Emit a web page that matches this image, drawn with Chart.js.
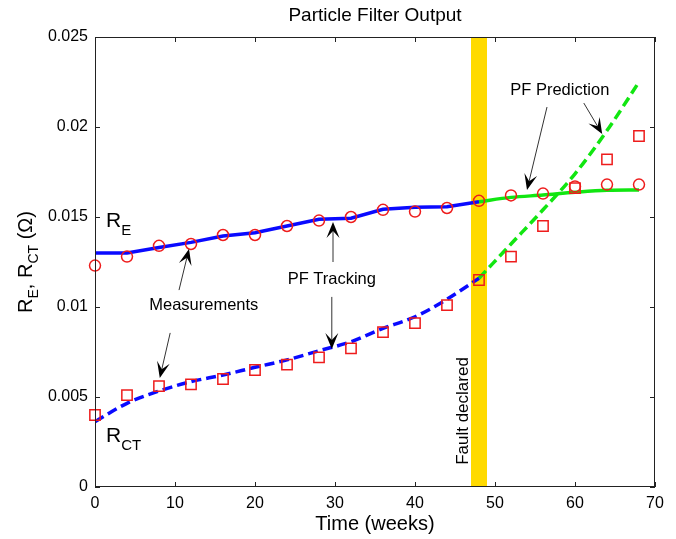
<!DOCTYPE html>
<html>
<head>
<meta charset="utf-8">
<script src="https://cdn.jsdelivr.net/npm/chart.js@4.4.0/dist/chart.umd.min.js"></script>
<style>
body { margin: 0; background: #fff; }
#wrap { width: 676px; height: 539px; }
</style>
</head>
<body>
<div id="wrap"><canvas id="pfChart" width="676" height="539"></canvas></div>
<script>
// measurement weeks and values (circles = R_E, squares = R_CT)
const weeks = [0, 4, 8, 12, 16, 20, 24, 28, 32, 36, 40, 44, 48, 52, 56, 60, 64, 68];
const reMeasured = [0.0123, 0.0128, 0.0134, 0.0135, 0.0140, 0.0140, 0.0145, 0.0148, 0.0150,
                    0.0154, 0.0153, 0.0155, 0.0159, 0.0162, 0.0163, 0.0167, 0.0168, 0.0168];
const rctMeasured = [0.0040, 0.0051, 0.0056, 0.0057, 0.0060, 0.0065, 0.0068, 0.0072, 0.0077,
                     0.0086, 0.0091, 0.0101, 0.0115, 0.0128, 0.0145, 0.0166, 0.0182, 0.0195];

// PF tracking (blue) up to fault declaration
const trackWeeks = [0, 4, 8, 12, 16, 20, 24, 28, 32, 36, 40, 44, 48];
const reTracked = [0.0130, 0.0130, 0.01330, 0.01359, 0.01394, 0.01413, 0.01450, 0.01487,
                   0.01493, 0.01543, 0.01554, 0.01557, 0.01585];
const rctTracked = [0.00363, 0.00465, 0.00533, 0.00585, 0.00622, 0.00665, 0.00706, 0.00757,
                    0.00807, 0.00881, 0.00946, 0.01043, 0.01160];

// PF prediction (green) after fault declaration
const predWeeks = [48, 52, 56, 60, 64, 68];
const rePredicted = [0.01585, 0.01609, 0.01622, 0.01637, 0.01648, 0.01650];
const rctPredicted = [0.01160, 0.01350, 0.01540, 0.01740, 0.01980, 0.02250];

const faultBand = [47, 49];

const xTicks = [0, 10, 20, 30, 40, 50, 60, 70];
const yTicks = [0, 0.005, 0.01, 0.015, 0.02, 0.025];
const yTickLabels = ['0', '0.005', '0.01', '0.015', '0.02', '0.025'];

const FONT = '"Liberation Sans", Arial, Helvetica, sans-serif';

function pts(xs, ys) {
    return xs.map((x, i) => ({ x: x, y: ys[i] }));
}

// text labels and arrows, in data coordinates
const labels = [
    { text: 'Measurements', x: 13.6, y: 0.01010 },
    { text: 'PF Tracking', x: 29.6, y: 0.01155 },
    { text: 'PF Prediction', x: 58.1, y: 0.02205 }
];
const arrows = [
    { from: [10.5, 0.01094], to: [11.75, 0.01322] },
    { from: [9.4, 0.00856], to: [8.1, 0.00606] },
    { from: [29.75, 0.01250], to: [29.75, 0.01472] },
    { from: [29.6, 0.01056], to: [29.6, 0.00767] },
    { from: [56.5, 0.02111], to: [54.0, 0.01650] },
    { from: [61.1, 0.02133], to: [63.4, 0.01961] }
];

function drawRich(ctx, parts, x, y, size, subSize, drop) {
    let cx = x;
    parts.forEach(p => {
        ctx.font = (p.sub ? subSize : size) + 'px ' + FONT;
        ctx.fillText(p.t, cx, y + (p.sub ? drop : 0));
        cx += ctx.measureText(p.t).width;
    });
    return cx - x;
}

function richWidth(ctx, parts, size, subSize) {
    let w = 0;
    parts.forEach(p => {
        ctx.font = (p.sub ? subSize : size) + 'px ' + FONT;
        w += ctx.measureText(p.t).width;
    });
    return w;
}

function drawArrow(ctx, x1, y1, x2, y2) {
    const ang = Math.atan2(y2 - y1, x2 - x1);
    const len = 16, half = 6.5, notch = 9;
    ctx.save();
    ctx.strokeStyle = '#333';
    ctx.lineWidth = 1;
    ctx.beginPath();
    ctx.moveTo(x1, y1);
    ctx.lineTo(x2 - Math.cos(ang) * notch, y2 - Math.sin(ang) * notch);
    ctx.stroke();
    ctx.translate(x2, y2);
    ctx.rotate(ang);
    ctx.fillStyle = '#000';
    ctx.beginPath();
    ctx.moveTo(0, 0);
    ctx.lineTo(-len, -half);
    ctx.lineTo(-notch, 0);
    ctx.lineTo(-len, half);
    ctx.closePath();
    ctx.fill();
    ctx.restore();
}

const decorPlugin = {
    id: 'decor',
    beforeDatasetsDraw(chart) {
        const { ctx, chartArea: a, scales: { x } } = chart;
        const x0 = x.getPixelForValue(faultBand[0]);
        const x1 = x.getPixelForValue(faultBand[1]);
        ctx.save();
        ctx.fillStyle = '#ffda00';
        ctx.fillRect(x0, a.top, x1 - x0, a.bottom - a.top);
        ctx.restore();
    },
    afterDraw(chart) {
        const { ctx, chartArea: a, scales: { x, y } } = chart;
        ctx.save();
        // box and inward ticks
        ctx.strokeStyle = '#222';
        ctx.lineWidth = 1;
        ctx.strokeRect(a.left + 0.5, a.top + 0.5, a.right - a.left - 1, a.bottom - a.top - 1);
        ctx.beginPath();
        xTicks.forEach(v => {
            const px = Math.round(x.getPixelForValue(v)) + 0.5;
            ctx.moveTo(px, a.bottom); ctx.lineTo(px, a.bottom - 5);
            ctx.moveTo(px, a.top); ctx.lineTo(px, a.top + 5);
        });
        yTicks.forEach(v => {
            const py = Math.round(y.getPixelForValue(v)) + 0.5;
            ctx.moveTo(a.left, py); ctx.lineTo(a.left + 5, py);
            ctx.moveTo(a.right, py); ctx.lineTo(a.right - 5, py);
        });
        ctx.stroke();

        ctx.fillStyle = '#000';
        ctx.textBaseline = 'middle';
        ctx.textAlign = 'center';

        // title
        ctx.font = '19px ' + FONT;
        ctx.fillText('Particle Filter Output', (a.left + a.right) / 2, 16);

        // x axis title
        ctx.font = '20px ' + FONT;
        ctx.fillText('Time (weeks)', (a.left + a.right) / 2, 524);

        // annotation texts
        ctx.font = '16.5px ' + FONT;
        labels.forEach(l => {
            ctx.fillText(l.text, x.getPixelForValue(l.x), y.getPixelForValue(l.y));
        });

        // fault declared (vertical)
        ctx.save();
        ctx.translate(463, 411);
        ctx.rotate(-Math.PI / 2);
        ctx.font = '17px ' + FONT;
        ctx.fillText('Fault declared', 0, 0);
        ctx.restore();

        arrows.forEach(ar => {
            drawArrow(ctx,
                x.getPixelForValue(ar.from[0]), y.getPixelForValue(ar.from[1]),
                x.getPixelForValue(ar.to[0]), y.getPixelForValue(ar.to[1]));
        });

        // curve labels with subscripts
        ctx.textAlign = 'left';
        ctx.textBaseline = 'alphabetic';
        drawRich(ctx, [{ t: 'R' }, { t: 'E', sub: true }], 106, 227, 21, 15, 8);
        drawRich(ctx, [{ t: 'R' }, { t: 'CT', sub: true }], 106, 442, 21, 15, 8);

        // y axis title
        const yParts = [{ t: 'R' }, { t: 'E', sub: true }, { t: ', R' }, { t: 'CT', sub: true }, { t: ' (\u03A9)' }];
        const w = richWidth(ctx, yParts, 20, 14);
        ctx.save();
        ctx.translate(32, (a.top + a.bottom) / 2);
        ctx.rotate(-Math.PI / 2);
        drawRich(ctx, yParts, -w / 2, 0, 20, 14, 6);
        ctx.restore();

        ctx.restore();
    }
};

const ctx = document.getElementById('pfChart').getContext('2d');

const pfChart = new Chart(ctx, {
    type: 'line',
    data: {
        datasets: [
            {
                label: 'R_E measured',
                data: pts(weeks, reMeasured),
                showLine: false,
                pointStyle: 'circle',
                pointRadius: 5.5,
                pointBorderWidth: 1.5,
                pointBorderColor: '#ee1c1c',
                pointBackgroundColor: 'rgba(0,0,0,0)',
                clip: false,
                order: 1
            },
            {
                label: 'R_CT measured',
                data: pts(weeks, rctMeasured),
                showLine: false,
                pointStyle: 'rect',
                pointRadius: 7.3,
                pointBorderWidth: 1.5,
                pointBorderColor: '#ee1c1c',
                pointBackgroundColor: 'rgba(0,0,0,0)',
                clip: false,
                order: 1
            },
            {
                label: 'R_E tracking',
                data: pts(trackWeeks, reTracked),
                borderColor: '#0a0aff',
                borderWidth: 3.5,
                pointRadius: 0,
                tension: 0,
                order: 2
            },
            {
                label: 'R_CT tracking',
                data: pts(trackWeeks, rctTracked),
                borderColor: '#0a0aff',
                borderWidth: 3.5,
                borderDash: [10, 5],
                pointRadius: 0,
                cubicInterpolationMode: 'monotone',
                order: 2
            },
            {
                label: 'R_E prediction',
                data: pts(predWeeks, rePredicted),
                borderColor: '#11e611',
                borderWidth: 3.5,
                pointRadius: 0,
                cubicInterpolationMode: 'monotone',
                order: 2
            },
            {
                label: 'R_CT prediction',
                data: pts(predWeeks, rctPredicted),
                borderColor: '#11e611',
                borderWidth: 3.5,
                borderDash: [10, 5],
                pointRadius: 0,
                cubicInterpolationMode: 'monotone',
                order: 2
            }
        ]
    },
    options: {
        responsive: false,
        animation: false,
        layout: {
            padding: { left: 0, right: 21, top: 37, bottom: 0 }
        },
        plugins: {
            legend: { display: false },
            title: { display: false },
            tooltip: { enabled: false }
        },
        scales: {
            x: {
                type: 'linear',
                min: 0,
                max: 70,
                afterBuildTicks: s => { s.ticks = xTicks.map(v => ({ value: v })); },
                afterFit: s => { s.height = 52; },
                grid: { display: false, drawTicks: false },
                border: { display: false },
                ticks: {
                    color: '#000',
                    padding: 7,
                    maxRotation: 0,
                    font: { family: FONT, size: 16 }
                }
            },
            y: {
                type: 'linear',
                min: 0,
                max: 0.025,
                afterBuildTicks: s => { s.ticks = yTicks.map(v => ({ value: v })); },
                afterFit: s => { s.width = 95; },
                grid: { display: false, drawTicks: false },
                border: { display: false },
                ticks: {
                    color: '#000',
                    padding: 7,
                    font: { family: FONT, size: 16 },
                    callback: (v, i) => yTickLabels[i]
                }
            }
        }
    },
    plugins: [decorPlugin]
});
</script>
</body>
</html>
